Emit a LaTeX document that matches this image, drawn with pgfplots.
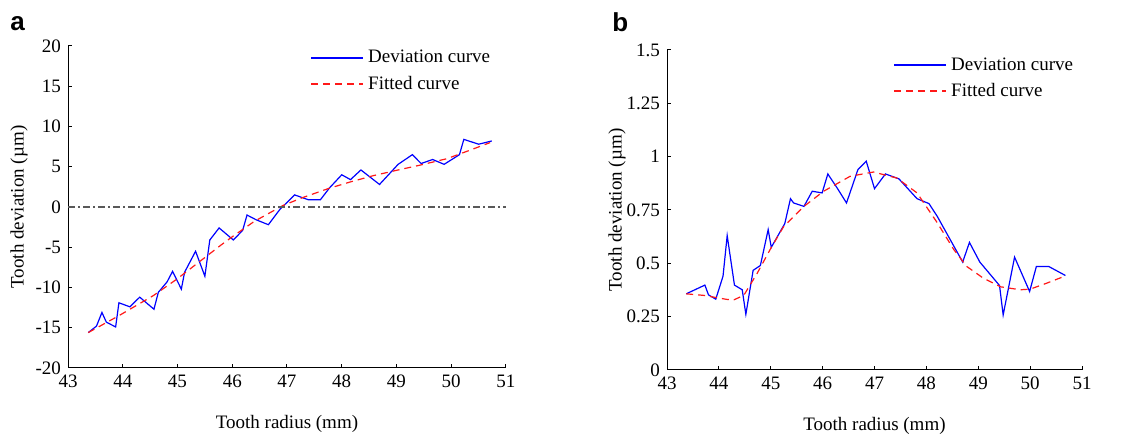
\documentclass[border=0pt]{standalone}
\usepackage{pgfplots}
\pgfplotsset{compat=1.18}
\usepackage{fontspec}
\setmainfont{Liberation Serif}
\newfontfamily\panelfont{Liberation Sans}

\newcommand{\lbl}{\fontsize{9.5}{11}\selectfont}

\pgfplotsset{
  toothstyle/.style={
    scale only axis,
    axis x line*=bottom, axis y line*=left,
    tick align=inside, major tick length=2pt,
    axis line style={line width=0.5pt},
    every tick/.style={black, line width=0.5pt},
    xmin=43, xmax=51, xtick={43,...,51},
    tick label style={font=\lbl},
    label style={font=\lbl},
    /pgf/number format/assume math mode=true,
    xlabel={Tooth radius (mm)},
    ylabel={Tooth deviation (\textmu m)},
    xlabel style={at={(axis description cs:0.5,0)}, anchor=north, yshift=-20pt},
    legend cell align=left,
    legend style={draw=none, fill=none, font=\lbl, inner sep=0pt,
      row sep=1pt},
    % slightly heavier sample lines so they keep their colour when rasterised
    legend image code/.code={\draw[##1, line width=0.9pt] (0pt,0pt) -- (26pt,0pt);},
  },
}
\tikzset{
  devline/.style={color=blue, line width=0.6pt},
  fitline/.style={color=red!90!white, line width=0.6pt, dash pattern=on 3.5pt off 2.5pt},
}

\begin{document}
\begin{tikzpicture}
\useasboundingbox (0,0) rectangle (571.5pt,219pt);

% panel a
\begin{axis}[toothstyle,
  at={(34pt,35pt)}, anchor=south west,
  width=219pt, height=161pt,
  ymin=-20, ymax=20, ytick={-20,-15,...,20},
  yticklabels={-20,-15,-10,-5,0,5,10,15,20},
  ylabel style={at={(axis description cs:-0.112,0.5)}, anchor=center},
  legend style={at={(0.5525,1)}, anchor=north west},
]
\addplot[devline] coordinates {
(43.37,-15.6)(43.52,-14.8)(43.62,-13.1)(43.70,-14.3)(43.87,-14.9)
(43.93,-11.9)(44.13,-12.4)(44.31,-11.2)(44.57,-12.7)(44.65,-10.6)
(44.81,-9.3)(44.91,-8.0)(45.07,-10.2)(45.13,-8.1)(45.33,-5.5)
(45.50,-8.6)(45.59,-4.1)(45.76,-2.6)(46.02,-4.1)(46.19,-2.9)
(46.27,-1.0)(46.44,-1.6)(46.66,-2.2)(46.87,-0.3)(47.14,1.5)
(47.39,0.9)(47.61,0.9)(47.78,2.4)(48.00,4.0)(48.16,3.4)
(48.35,4.6)(48.69,2.8)(49.03,5.3)(49.29,6.5)(49.45,5.4)
(49.66,5.9)(49.87,5.3)(50.15,6.5)(50.23,8.4)(50.50,7.8)(50.74,8.2)};
\addlegendentry{Deviation curve}
\addplot[fitline] coordinates {
(43.37,-15.6)(43.93,-13.5)(44.56,-11.0)(44.98,-9.0)(45.40,-6.8)
(45.80,-4.7)(46.02,-3.6)(46.40,-1.8)(46.93,0.2)(47.30,1.2)
(47.76,2.3)(48.15,3.1)(48.58,3.9)(49.03,4.6)(49.43,5.2)
(49.92,6.0)(50.28,6.9)(50.71,8.0)};
\addlegendentry{Fitted curve}
\addplot[black!65, line width=0.6pt, dash pattern=on 3.5pt off 1.5pt on 1pt off 1.5pt,
  forget plot] coordinates {(43,0)(51,0)};
\end{axis}

% panel b
\begin{axis}[toothstyle,
  at={(333.5pt,34pt)}, anchor=south west,
  width=207.5pt, height=160pt,
  ymin=0, ymax=1.5, ytick={0,0.25,0.5,0.75,1,1.25,1.5},
  yticklabels={0,0.25,0.5,0.75,1,1.25,1.5},
  ylabel style={at={(axis description cs:-0.1205,0.5)}, anchor=center},
  legend style={at={(0.5446,0.99)}, anchor=north west},
]
\addplot[devline] coordinates {
(43.37,0.357)(43.73,0.398)(43.80,0.352)(43.94,0.332)(44.08,0.44)
(44.16,0.63)(44.30,0.398)(44.45,0.376)(44.52,0.261)(44.66,0.467)
(44.80,0.49)(44.95,0.658)(45.01,0.575)(45.27,0.686)(45.38,0.803)
(45.44,0.783)(45.64,0.767)(45.80,0.838)(45.99,0.83)(46.10,0.919)
(46.28,0.853)(46.46,0.783)(46.68,0.939)(46.84,0.979)(47.00,0.85)
(47.21,0.919)(47.47,0.896)(47.82,0.803)(48.05,0.78)(48.21,0.72)
(48.70,0.506)(48.83,0.598)(49.03,0.506)(49.41,0.396)(49.48,0.258)
(49.70,0.529)(49.99,0.368)(50.12,0.485)(50.36,0.485)(50.68,0.443)};
\addlegendentry{Deviation curve}
\addplot[fitline] coordinates {
(43.37,0.357)(43.70,0.350)(43.94,0.340)(44.15,0.331)(44.29,0.329)
(44.48,0.350)(44.74,0.454)(45.00,0.570)(45.25,0.673)(45.64,0.767)
(46.02,0.838)(46.53,0.908)(46.98,0.928)(47.43,0.900)(47.82,0.830)
(48.21,0.690)(48.53,0.564)(48.78,0.485)(49.10,0.430)(49.43,0.390)
(49.81,0.376)(50.00,0.379)(50.32,0.407)(50.68,0.441)};
\addlegendentry{Fitted curve}
\end{axis}

\node[anchor=base west, inner sep=0pt, font=\panelfont\fontsize{13}{15}\selectfont\bfseries] at (5pt,203.5pt) {a};
\node[anchor=base west, inner sep=0pt, font=\panelfont\fontsize{13}{15}\selectfont\bfseries] at (306pt,203pt) {b};
\end{tikzpicture}
\end{document}
